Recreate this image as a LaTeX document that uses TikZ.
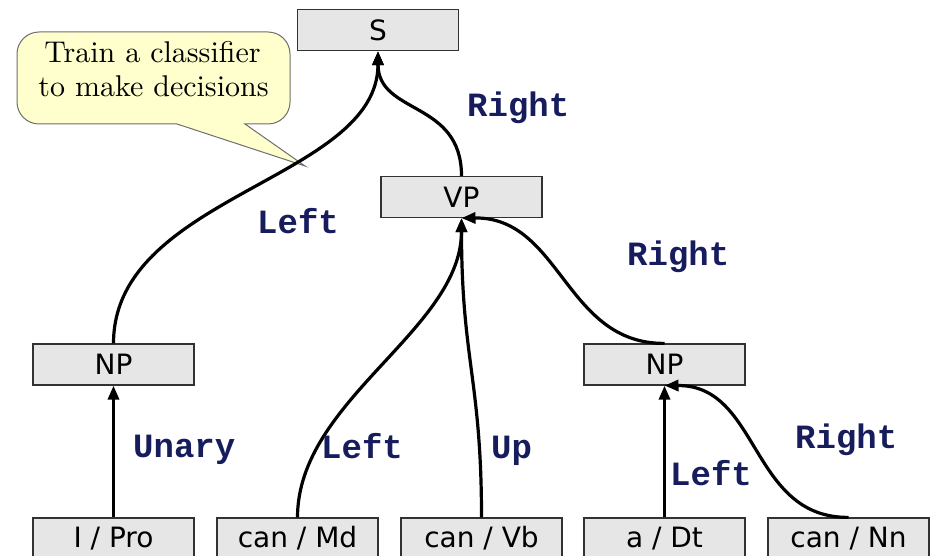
\documentclass[tikz,border=0pt]{standalone}
\usepackage{fontspec}
\setsansfont{DejaVu Sans}
\newfontfamily\lblfont{Liberation Mono}
\newfontfamily\notefont{lmroman10-regular.otf}
\usetikzlibrary{arrows.meta}
\definecolor{boxfill}{RGB}{230,230,230}
\definecolor{boxline}{RGB}{50,50,50}
\definecolor{lblcol}{RGB}{22,28,92}
\definecolor{notefill}{RGB}{255,255,206}
\definecolor{noteline}{RGB}{110,110,110}

\begin{document}
\begin{tikzpicture}[x=1pt,y=-1pt,
  cat/.style={draw=boxline, line width=1.2pt, fill=boxfill,
    minimum width=161pt, minimum height=41pt, inner sep=0pt,
    font=\sffamily\fontsize{28}{28}\selectfont},
  lbl/.style={text=lblcol, anchor=base west, inner sep=0pt,
    font=\lblfont\bfseries\fontsize{34}{34}\selectfont},
  notetext/.style={anchor=base, inner sep=0pt,
    font=\notefont\fontsize{30}{30}\selectfont},
  edge/.style={line width=3.2pt, -{Triangle[length=14pt,width=11pt]}},
  callout/.style={draw=noteline, line width=1pt, fill=notefill},
]
\useasboundingbox (0,0) rectangle (936,556);

% speech bubble: rounded box with a pointer at its lower edge
\path[callout] (17,54) arc[start angle=180, end angle=270, radius=22]
  -- (268,32) arc[start angle=270, end angle=360, radius=22]
  -- (290,102) arc[start angle=0, end angle=90, radius=22]
  -- (245,124) -- (305,166) -- (177,124)
  -- (39,124) arc[start angle=90, end angle=180, radius=22] -- cycle;
\node[notetext] (note1) at (152.5,63) {Train a classifier};
\node[notetext] (note2) at (153.5,97) {to make decisions};

% tree nodes
\node[cat] (S)   at (378,30)    {S};
\node[cat] (VP)  at (461.5,197) {VP};
\node[cat] (npL) at (113.5,364.5) {NP};
\node[cat] (npR) at (664.5,364.5) {NP};
\node[cat] (pro) at (113.5,538.5) {I / Pro};
\node[cat] (md)  at (297.5,538.5) {can / Md};
\node[cat] (vb)  at (481.5,538.5) {can / Vb};
\node[cat] (dt)  at (664.5,538.5) {a / Dt};
\node[cat] (nn)  at (848.5,538.5) {can / Nn};

% connectors
\draw[edge] (npL.north) .. controls (113.5,195) and (378,180) .. (S.south);
\draw[edge] (VP.north) .. controls (461.5,100) and (378,115) .. (S.south);
\draw[edge] (md.north) .. controls (297.5,400) and (461.5,330) .. (VP.south);
\draw[edge] (vb.north) .. controls (481.5,380) and (461.5,360) .. (VP.south);
\draw[edge] (npR.north) .. controls (565,344) and (561,217) .. (VP.south);
\draw[edge] (pro.north) -- (npL.south);
\draw[edge] (dt.north) -- (npR.south);
\draw[edge] (nn.north) .. controls (750,518) and (760,385) .. (npR.south);

% transition labels
\node[lbl] (l1) at (467,117) {Right};
\node[lbl] (l2) at (257,233) {Left};
\node[lbl] (l3) at (627,265) {Right};
\node[lbl] (l4) at (133,457) {Unary};
\node[lbl] (l5) at (321,458) {Left};
\node[lbl] (l6) at (491,458) {Up};
\node[lbl] (l7) at (670,485) {Left};
\node[lbl] (l8) at (795,448) {Right};
\end{tikzpicture}
\end{document}
